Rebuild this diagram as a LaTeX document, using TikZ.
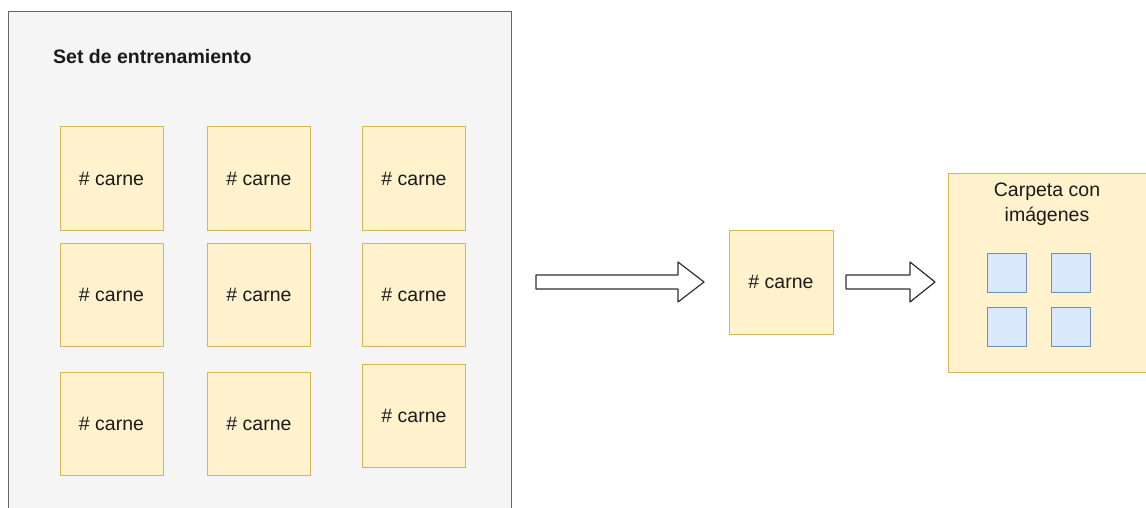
\documentclass[tikz,border=0pt]{standalone}
\usepackage{fontspec}
\setmainfont{Liberation Sans}
\usetikzlibrary{calc}
\definecolor{setfill}{HTML}{F5F5F5}
\definecolor{setline}{HTML}{666666}
\definecolor{notefill}{HTML}{FFF2CC}
\definecolor{noteline}{HTML}{D6B656}
\definecolor{imgfill}{HTML}{DAE8FC}
\definecolor{imgline}{HTML}{6C8EBF}
\definecolor{ink}{HTML}{1A1A1A}
\tikzset{
  note/.style={draw=noteline, fill=notefill, line width=1pt, minimum width=103pt, minimum height=103pt, inner sep=0pt, text=ink, font=\fontsize{19.5}{23}\selectfont},
  imgbox/.style={draw=imgline, fill=imgfill, line width=1pt, minimum width=39pt, minimum height=39pt, inner sep=0pt},
  fatarrow/.style={draw=ink!90, fill=white, line width=1.2pt, line join=round},
}
% hollow block arrow from #1 to #2 with a head of length #3
\newcommand\blockarrow[3]{%
  \draw[fatarrow] let \p1=(#1), \p2=(#2) in
    (\x1,\y1+7pt) -- (\x2-#3,\y1+7pt) -- (\x2-#3,\y1+20pt) -- (\x2,\y1)
    -- (\x2-#3,\y1-20pt) -- (\x2-#3,\y1-7pt) -- (\x1,\y1-7pt) -- cycle;}
\begin{document}
\begin{tikzpicture}[x=1pt, y=-1pt]
\useasboundingbox[fill=white] (0,0) rectangle (1146,508);

% training set container
\node (set) [draw=setline, fill=setfill, line width=1.2pt, anchor=north west,
  minimum width=503pt, minimum height=500pt, inner sep=0pt] at (8,11) {};
\node (title) [anchor=west, inner sep=0pt, text=ink,
  font=\fontsize{19.5}{23}\selectfont\bfseries] at (53,57) {Set de entrenamiento};

\node (n11) [note] at (111.5,178.5) {\# carne};
\node (n12) [note] at (259,178.5) {\# carne};
\node (n13) [note] at (414,178.5) {\# carne};
\node (n21) [note] at (111.5,294.5) {\# carne};
\node (n22) [note] at (259,294.5) {\# carne};
\node (n23) [note] at (414,294.5) {\# carne};
\node (n31) [note] at (111.5,423.5) {\# carne};
\node (n32) [note] at (259,423.5) {\# carne};
\node (n33) [note] at (414,415.5) {\# carne};

% single record
\node (one) [note, minimum width=104pt, minimum height=104pt] at (781,282) {\# carne};

% image folder
\node (folder) [draw=noteline, fill=notefill, line width=1pt, anchor=north west,
  minimum width=200pt, minimum height=199pt, inner sep=0pt] at (948,173) {};
\node (foldertitle) [align=center, text=ink, inner sep=0pt,
  font=\fontsize{19.5}{25}\selectfont] at (1047,204.5) {Carpeta con\\imágenes};
\node (i1) [imgbox] at (1006.5,272.5) {};
\node (i2) [imgbox] at (1071,272.5) {};
\node (i3) [imgbox] at (1006.5,327) {};
\node (i4) [imgbox] at (1071,327) {};

% arrows between the stages
\coordinate (a1s) at (536,282);
\coordinate (a1e) at (704,282);
\coordinate (a2s) at (846,282);
\coordinate (a2e) at (935,282);
\blockarrow{a1s}{a1e}{26pt}
\blockarrow{a2s}{a2e}{25pt}
\end{tikzpicture}
\end{document}
